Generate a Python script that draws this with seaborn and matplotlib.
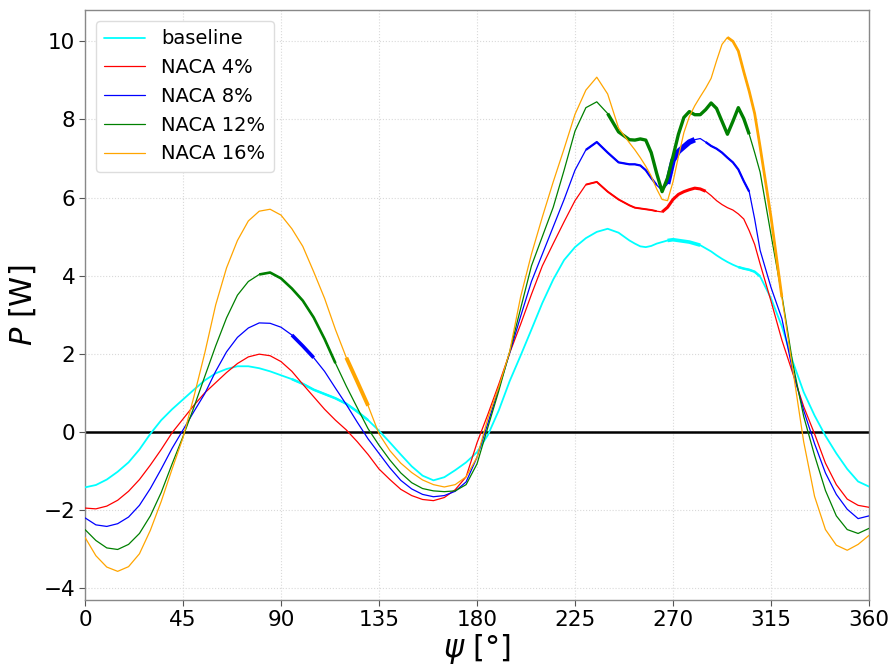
import numpy as np
import pandas as pd
import matplotlib
matplotlib.use("Agg")
import matplotlib.pyplot as plt
import seaborn as sns

# Azimuth angle of the blade [deg]
psi = [0, 5, 10, 15, 20, 25, 30, 35, 40, 45, 50, 55, 60, 65, 70, 75, 80, 85, 90, 95,
       100, 105, 110, 115, 120, 125, 130, 135, 140, 145, 150, 155, 160, 165, 170, 175,
       180, 185, 190, 195, 200, 205, 210, 215, 220, 225, 230, 235, 240, 245,
       250, 252.5, 255, 257.5, 260, 262.5, 265, 267.5, 270, 272.5, 275, 277.5, 280,
       282.5, 285, 287.5, 290, 292.5, 295, 297.5, 300, 302.5, 305, 307.5, 310,
       315, 320, 325, 330, 335, 340, 345, 350, 355, 360]

# Power per blade configuration [W]
p_baseline = [-1.42, -1.36, -1.22, -1.02, -0.78, -0.45, -0.05, 0.30, 0.58, 0.83,
              1.08, 1.32, 1.50, 1.61, 1.68, 1.68, 1.63, 1.55, 1.45, 1.35,
              1.23, 1.08, 0.97, 0.86, 0.72, 0.52, 0.30, 0.03, -0.27, -0.58,
              -0.88, -1.12, -1.24, -1.16, -0.98, -0.78, -0.52, -0.08, 0.55, 1.30,
              1.95, 2.62, 3.30, 3.90, 4.40, 4.73, 4.96, 5.12, 5.20, 5.10,
              4.90, 4.82, 4.75, 4.73, 4.76, 4.82, 4.86, 4.90, 4.92, 4.90,
              4.88, 4.86, 4.82, 4.78, 4.70, 4.62, 4.52, 4.43, 4.35, 4.28,
              4.22, 4.18, 4.15, 4.10, 3.98, 3.42, 2.70, 1.80, 1.02, 0.42,
              -0.10, -0.55, -0.95, -1.27, -1.40]

p_naca4 = [-1.95, -1.97, -1.90, -1.75, -1.52, -1.22, -0.85, -0.45, -0.02, 0.33,
           0.68, 1.00, 1.26, 1.52, 1.75, 1.92, 1.99, 1.95, 1.80, 1.55,
           1.22, 0.90, 0.58, 0.30, 0.05, -0.25, -0.58, -0.95, -1.22, -1.47,
           -1.63, -1.73, -1.76, -1.68, -1.48, -1.15, -0.28, 0.45, 1.22, 2.02,
           2.75, 3.52, 4.25, 4.82, 5.38, 5.92, 6.33, 6.40, 6.15, 5.95,
           5.80, 5.74, 5.72, 5.70, 5.68, 5.65, 5.63, 5.75, 5.95, 6.08,
           6.15, 6.20, 6.24, 6.22, 6.16, 6.05, 5.92, 5.82, 5.74, 5.68,
           5.58, 5.45, 5.15, 4.80, 4.30, 3.35, 2.35, 1.50, 0.65, -0.05,
           -0.80, -1.35, -1.72, -1.88, -1.93]

p_naca8 = [-2.20, -2.38, -2.42, -2.35, -2.18, -1.88, -1.45, -0.95, -0.42, 0.05,
           0.52, 0.98, 1.55, 2.05, 2.42, 2.66, 2.79, 2.78, 2.68, 2.48,
           2.20, 1.90, 1.55, 1.12, 0.70, 0.25, -0.18, -0.55, -0.92, -1.24,
           -1.46, -1.60, -1.66, -1.63, -1.52, -1.28, -0.65, 0.22, 1.12, 2.02,
           2.95, 3.85, 4.55, 5.25, 5.95, 6.70, 7.22, 7.42, 7.15, 6.90,
           6.85, 6.85, 6.82, 6.70, 6.50, 6.32, 6.18, 6.35, 6.95, 7.18,
           7.30, 7.42, 7.48, 7.51, 7.42, 7.32, 7.25, 7.15, 7.02, 6.90,
           6.72, 6.42, 6.15, 5.45, 4.65, 3.70, 2.90, 1.55, 0.55, -0.30,
           -1.05, -1.60, -1.98, -2.22, -2.15]

p_naca12 = [-2.50, -2.78, -2.97, -3.01, -2.88, -2.60, -2.15, -1.55, -0.82, -0.12,
            0.63, 1.42, 2.20, 2.92, 3.50, 3.85, 4.03, 4.08, 3.93, 3.67,
            3.36, 2.93, 2.38, 1.76, 1.17, 0.62, 0.08, -0.34, -0.72, -1.05,
            -1.30, -1.45, -1.51, -1.53, -1.51, -1.35, -0.82, 0.12, 1.05, 2.05,
            3.15, 4.25, 5.00, 5.75, 6.70, 7.70, 8.30, 8.45, 8.15, 7.68,
            7.48, 7.47, 7.50, 7.47, 7.15, 6.62, 6.15, 6.50, 7.05, 7.62,
            8.05, 8.20, 8.12, 8.12, 8.25, 8.42, 8.28, 7.95, 7.62, 7.95,
            8.30, 8.02, 7.62, 7.15, 6.65, 5.05, 3.50, 1.75, 0.40, -0.60,
            -1.50, -2.15, -2.50, -2.60, -2.47]

p_naca16 = [-2.70, -3.17, -3.46, -3.57, -3.45, -3.12, -2.52, -1.78, -0.95, -0.15,
            0.90, 2.02, 3.25, 4.20, 4.90, 5.40, 5.65, 5.70, 5.55, 5.20,
            4.75, 4.10, 3.42, 2.62, 1.90, 1.29, 0.67, -0.05, -0.48, -0.80,
            -1.04, -1.23, -1.35, -1.41, -1.35, -1.15, -0.65, 0.35, 1.15, 2.05,
            3.45, 4.55, 5.50, 6.40, 7.25, 8.13, 8.75, 9.08, 8.65, 7.78,
            7.40, 7.22, 7.02, 6.80, 6.55, 6.22, 5.95, 5.92, 6.40, 7.05,
            7.66, 8.07, 8.35, 8.58, 8.80, 9.05, 9.50, 9.92, 10.10, 10.00,
            9.75, 9.22, 8.72, 8.15, 7.30, 5.50, 3.45, 1.60, -0.25, -1.65,
            -2.50, -2.90, -3.03, -2.88, -2.65]

series_names = ["baseline", "NACA 4%", "NACA 8%", "NACA 12%", "NACA 16%"]
series_values = [p_baseline, p_naca4, p_naca8, p_naca12, p_naca16]
colors = ["cyan", "red", "blue", "green", "orange"]
base_widths = [1.3, 0.9, 0.9, 0.9, 0.9]

# Angular ranges where the measured signal fluctuates strongly (drawn as a wider band)
fluctuating = {
    "baseline": [((95, 130), 1.8), ((267.5, 282.5), 2.6), ((300, 310), 1.8)],
    "NACA 4%": [((230, 262.5), 1.4), ((265, 285), 2.2)],
    "NACA 8%": [((95, 105), 2.6), ((230, 262.5), 1.6), ((267.5, 280), 4.0), ((285, 305), 1.6)],
    "NACA 12%": [((80, 118), 1.9), ((240, 305), 2.4)],
    "NACA 16%": [((118, 130), 2.8), ((295, 320), 2.0)],
}

df = pd.concat(
    [pd.DataFrame({"psi": psi, "P": vals, "series": name})
     for name, vals in zip(series_names, series_values)],
    ignore_index=True,
)

sns.set_theme(style="white")
plt.rcParams["font.family"] = ["DejaVu Sans"]
plt.rcParams["mathtext.fontset"] = "dejavusans"
plt.rcParams["text.color"] = "black"
plt.rcParams["axes.labelcolor"] = "black"
plt.rcParams["xtick.color"] = "black"
plt.rcParams["ytick.color"] = "black"

fig = plt.figure(figsize=(8.91, 6.68), dpi=100)
ax = fig.add_axes([0.0954, 0.102, 0.8799, 0.883])

ax.axhline(0, color="black", lw=1.8, zorder=1)

for name, color, lw in zip(series_names, colors, base_widths):
    sub = df[df["series"] == name]
    sns.lineplot(data=sub, x="psi", y="P", color=color, lw=lw, label=name,
                 estimator=None, sort=False, ax=ax, zorder=3)
    for (lo, hi), w in fluctuating[name]:
        seg = sub[(sub["psi"] >= lo) & (sub["psi"] <= hi)]
        ax.plot(seg["psi"], seg["P"], color=color, lw=w, solid_capstyle="butt",
                label="_nolegend_", zorder=3)

ax.set_xlim(0, 360)
ax.set_ylim(-4.3, 10.8)
ax.set_xticks(np.arange(0, 361, 45))
ax.set_yticks(np.arange(-4, 11, 2))
ax.grid(True, color="#d9d9d9", lw=0.8, ls=":")
ax.set_axisbelow(True)
for s in ax.spines.values():
    s.set_color("#888888")
    s.set_linewidth(1.0)
ax.tick_params(axis="both", labelsize=15.5, direction="out", length=4, width=0.8,
               color="#555555", labelcolor="black", bottom=True, left=True, pad=3)

ax.set_xlabel(r"$\psi$ [°]", fontsize=22, labelpad=2, color="black")
ax.set_ylabel(r"$P$ [W]", fontsize=22, labelpad=4, color="black")

handles, labels = ax.get_legend_handles_labels()
leg = ax.legend(handles, labels, loc="upper left", fontsize=14, frameon=True,
                fancybox=True, framealpha=1.0, edgecolor="#dddddd",
                borderpad=0.45, labelspacing=0.5, handlelength=2.1, handletextpad=0.8,
                bbox_to_anchor=(0.0, 1.0), borderaxespad=0.55)
for t in leg.get_texts():
    t.set_color("black")

fig.savefig("out.png", dpi=100)
